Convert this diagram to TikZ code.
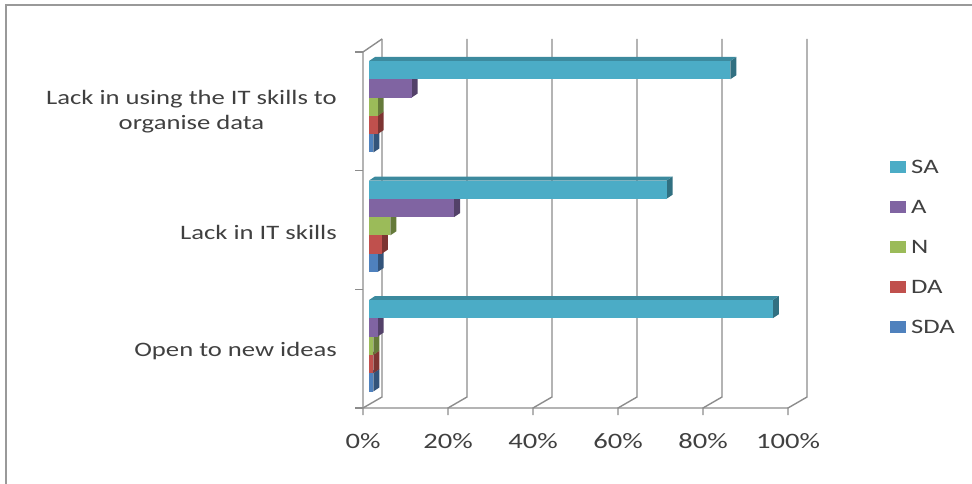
\documentclass[tikz,border=0pt]{standalone}
\usepackage{fontspec}
\setmainfont{Carlito}[FakeStretch=1.3]
\usetikzlibrary{positioning,calc}
\definecolor{saC}{HTML}{4BACC6}
\definecolor{aC}{HTML}{8064A2}
\definecolor{nC}{HTML}{9BBB59}
\definecolor{daC}{HTML}{C0504D}
\definecolor{sdaC}{HTML}{4F81BD}
\definecolor{wallC}{HTML}{8C8C8C}
\definecolor{txtC}{HTML}{404040}
\tikzstyle{wall}=[draw=wallC,line width=1.4pt]
\tikzstyle{catlabel}=[align=center,anchor=east,inner sep=0pt,text=txtC,font=\fontsize{20.5}{25}\selectfont]
\tikzstyle{ticklabel}=[inner sep=0pt,text=txtC,font=\fontsize{22}{24}\selectfont]
\tikzstyle{legtext}=[anchor=west,inner sep=0pt,text=txtC,font=\fontsize{20.5}{24}\selectfont]
% one 3d bar: top edge y, value in %, colour
\newcommand{\drawbar}[3]{%
  \fill[#3!65!black] (369+4.25*#2,#1) -- ++(6,-4) -- ++(0,18.3) -- ++(-6,4) -- cycle;
  \fill[#3!80!black] (369,#1) -- ++(6,-4) -- ++(4.25*#2,0) -- ++(-6,4) -- cycle;
  \fill[#3] (369,#1) rectangle ++(4.25*#2,18.3);
}

\begin{document}
\begin{tikzpicture}[x=1pt,y=-1pt]
  \useasboundingbox (0,0) rectangle (972,484);
  \draw[draw=gray!80,line width=1.5pt] (6,484) -- (6,5) -- (972,5);

  % walls and grid
  \draw[wall] (382,39) -- (363,52) -- (363,408) -- (788,408);
  \foreach \i in {0,...,5} {
    \draw[wall] (382+85*\i,39) -- (382+85*\i,397) -- (363+85*\i,408) -- ++(0,7);
    \pgfmathtruncatemacro{\pc}{20*\i}
    \node[ticklabel] (tick\i) at (363+85*\i,441) {\pc\%};
  }
  \foreach \j in {0,...,3}
    \draw[wall] (355,52+118.7*\j) -- (363,52+118.7*\j);

  % bars, SDA first so the upper bars cover the lower ones
  \foreach \k/\sa/\a/\n/\da/\sda in {0/85/10/2/2/1, 1/70/20/5/3/2, 2/95/2/1/1/1} {
    \pgfmathsetmacro{\yy}{61+119.5*\k}
    \drawbar{\yy+73.2}{\sda}{sdaC}
    \drawbar{\yy+54.9}{\da}{daC}
    \drawbar{\yy+36.6}{\n}{nC}
    \drawbar{\yy+18.3}{\a}{aC}
    \drawbar{\yy}{\sa}{saC}
  }

  % categories
  \node[catlabel] (catdata) at (337,112) {Lack in using the IT skills to\\organise data};
  \node[catlabel] (catskill) at (337,232) {Lack in IT skills};
  \node[catlabel] (catopen) at (337,351) {Open to new ideas};

  % legend
  \foreach \name/\col [count=\c from 0] in {SA/saC,A/aC,N/nC,DA/daC,SDA/sdaC} {
    \fill[\col] (890,161+40*\c) rectangle ++(16,12);
    \node[legtext] (leg\c) at (911,167+40*\c) {\name};
  }
\end{tikzpicture}
\end{document}
